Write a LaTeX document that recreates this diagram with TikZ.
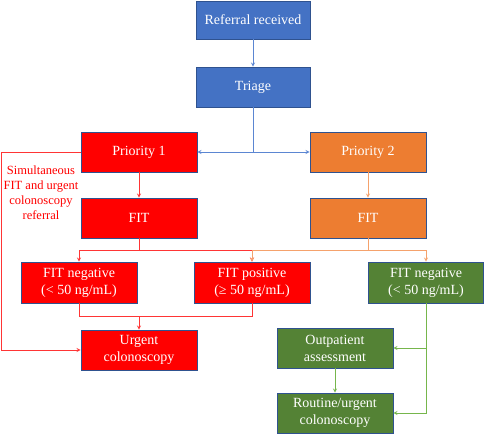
\documentclass[tikz,border=0pt]{standalone}
\usepackage{fontspec}
\setmainfont{Liberation Serif}
\definecolor{boxblue}{HTML}{4472C4}
\definecolor{boxred}{HTML}{FF0000}
\definecolor{boxorange}{HTML}{ED7D31}
\definecolor{boxgreen}{HTML}{548235}
\definecolor{edgeblue}{HTML}{2F528F}
\definecolor{lineblue}{HTML}{5B86D2}
\definecolor{linered}{HTML}{FF3535}
\definecolor{lineorange}{HTML}{F5A26C}
\definecolor{linegreen}{HTML}{76B64C}
\tikzset{
  stepbox/.style={draw=edgeblue, line width=0.6pt, text=white, align=center,
    minimum width=116pt, minimum height=40pt, inner sep=2pt,
    font=\fontsize{14}{17}\selectfont},
  link/.style={->, line width=0.9pt}
}
\begin{document}
\begin{tikzpicture}[x=1pt, y=-1pt, >=stealth]
  \useasboundingbox (0,0) rectangle (485,434);
  \node[stepbox, fill=boxblue, minimum width=114pt, minimum height=38pt] (referral) at (253,20) {Referral received};
  \node[stepbox, fill=boxblue, minimum width=114pt] (triage) at (253,87) {Triage};
  \node[stepbox, fill=boxred] (prio1) at (139,152) {Priority 1};
  \node[stepbox, fill=boxorange] (prio2) at (368,152) {Priority 2};
  \node[stepbox, fill=boxred] (fit1) at (139,218) {FIT};
  \node[stepbox, fill=boxorange] (fit2) at (368,218) {FIT};
  \node[stepbox, fill=boxred, minimum height=41pt] (neg1) at (79,282.5) {FIT negative\\(< 50 ng/mL)};
  \node[stepbox, fill=boxred, minimum height=41pt] (pos) at (252,282.5) {FIT positive\\(≥ 50 ng/mL)};
  \node[stepbox, fill=boxgreen, minimum width=115pt, minimum height=41pt] (neg2) at (426,282.5) {FIT negative\\(< 50 ng/mL)};
  \node[stepbox, fill=boxred] (urgent) at (139,350) {Urgent\\colonoscopy};
  \node[stepbox, fill=boxgreen] (outpat) at (335,348) {Outpatient\\assessment};
  \node[stepbox, fill=boxgreen] (routine) at (335,413) {Routine/urgent\\colonoscopy};
  \node[text=boxred, align=center, font=\fontsize{12.5}{15}\selectfont] (simnote) at (41,193) {Simultaneous\\FIT and urgent\\colonoscopy\\referral};
  % blue part
  \draw[link, draw=lineblue] (referral) -- (triage);
  \coordinate (split) at (triage.south |- prio1.east);
  \draw[line width=0.9pt, draw=lineblue] (triage) -- (split);
  \draw[link, draw=lineblue] (split) -- (prio1);
  \draw[link, draw=lineblue] (split) -- (prio2);
  % red part
  \draw[link, draw=linered] (prio1) -- (fit1);
  \draw[link, draw=linered] (prio1.west) -- ++(-79,0) |- (urgent.west);
  \draw[link, draw=linered] (fit1.south) -- ++(0,12) -| (neg1);
  \draw[link, draw=linered] (fit1.south) -- ++(0,12) -| (pos);
  \draw[line width=0.9pt, draw=linered] (neg1.south) -- ++(0,13) -| (pos.south);
  \draw[link, draw=linered] (urgent.north |- neg1.south) ++(0,13) -- (urgent);
  % orange part
  \draw[link, draw=lineorange] (prio2) -- (fit2);
  \draw[link, draw=lineorange] (fit2.south) -- ++(0,12) -| (pos);
  \draw[link, draw=lineorange] (fit2.south) -- ++(0,12) -| (neg2);
  % green part
  \draw[link, draw=linegreen] (neg2.south) |- (routine.east);
  \draw[link, draw=linegreen] (neg2.south |- outpat.east) -- (outpat);
  \draw[link, draw=linegreen] (outpat) -- (routine);
\end{tikzpicture}
\end{document}
